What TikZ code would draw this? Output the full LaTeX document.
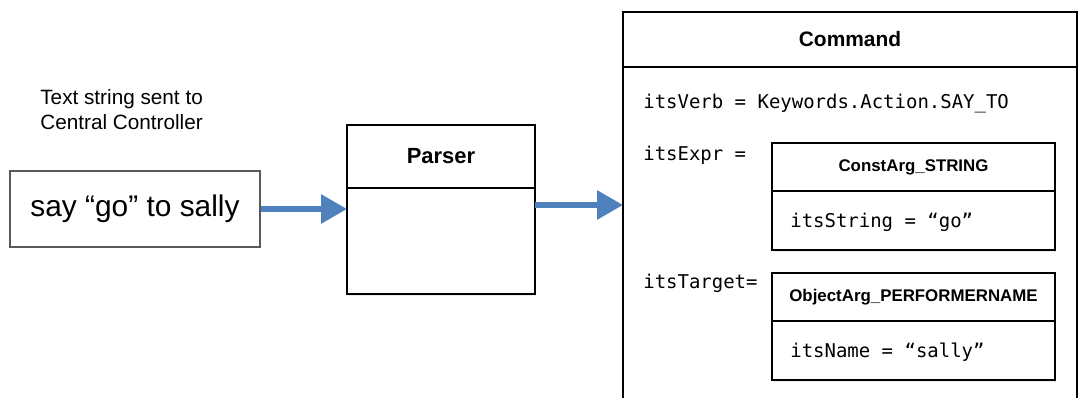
\documentclass[tikz,border=0pt]{standalone}
\usepackage{fontspec}
\setmainfont{Liberation Sans}
\newfontfamily\codefont{DejaVu Sans Mono}
\usetikzlibrary{arrows.meta,positioning,shadows}

\definecolor{flowblue}{RGB}{79,129,189}

\begin{document}
\begin{tikzpicture}[
  x=0.02cm, y=-0.02cm,
  classhead/.style={rectangle, draw, fill=white, line width=0.8pt, outer sep=0pt, inner sep=0pt, align=center,
    drop shadow={shadow xshift=0.7pt, shadow yshift=-1pt, opacity=0.15}},
  classbody/.style={classhead},
  code/.style={anchor=west, inner sep=0pt, font=\codefont\fontsize{10.8}{13}\selectfont},
  flow/.style={-{Triangle[length=0.52cm, width=0.56cm]}, line width=3.4pt, draw=flowblue}
]
\useasboundingbox (0,0) rectangle (1078,398);
\clip (0,0) rectangle (1078,398);

% input string
\node[anchor=west, inner sep=0pt, align=left, font=\fontsize{11.8}{14.2}\selectfont] (note) at (40,109.5) {Text string sent to\\Central Controller};
\node[rectangle, draw=black!65, line width=0.8pt, minimum width=5cm, minimum height=1.52cm, font=\fontsize{17}{20}\selectfont] (input) at (135,209) {say “go” to sally};

% Parser
\node[classhead, minimum width=3.76cm, minimum height=1.26cm, font=\fontsize{12.5}{15}\selectfont\bfseries] (parser) at (441,156.5) {Parser};
\node[classbody, minimum width=3.76cm, minimum height=2.12cm, below=0pt of parser] (parserbody) {};

% Command
\node[classhead, minimum width=9.08cm, minimum height=1.1cm, font=\fontsize{11.9}{14}\selectfont\bfseries] (cmd) at (850,39.5) {Command};
\node[classbody, minimum width=9.08cm, minimum height=8cm, below=0pt of cmd] (cmdbody) {};

\node[code] (verb) at (643,104) {itsVerb = Keywords.Action.SAY\_TO};
\node[code] (expr) at (643,155) {itsExpr =};
\node[code] (target) at (643,283) {itsTarget=};

% ConstArg_STRING
\node[classhead, minimum width=5.66cm, minimum height=0.96cm, font=\fontsize{9.6}{12}\selectfont\bfseries] (const) at (913.5,167) {ConstArg\_STRING};
\node[classbody, minimum width=5.66cm, minimum height=1.18cm, below=0pt of const] (constbody) {};
\node[code] (strval) at (790,222) {itsString = “go”};

% ObjectArg_PERFORMERNAME
\node[classhead, minimum width=5.66cm, minimum height=0.96cm, font=\fontsize{9.6}{12}\selectfont\bfseries] (obj) at (913.5,297) {ObjectArg\_PERFORMERNAME};
\node[classbody, minimum width=5.66cm, minimum height=1.18cm, below=0pt of obj] (objbody) {};
\node[code] (nameval) at (790,352) {itsName = “sally”};

% Arrows
\coordinate (out) at ([yshift=-0.34cm]parserbody.north east);
\draw[flow] (input.east) -- (input.east -| parserbody.west);
\draw[flow] (out) -- (out -| cmdbody.west);

\end{tikzpicture}
\end{document}
